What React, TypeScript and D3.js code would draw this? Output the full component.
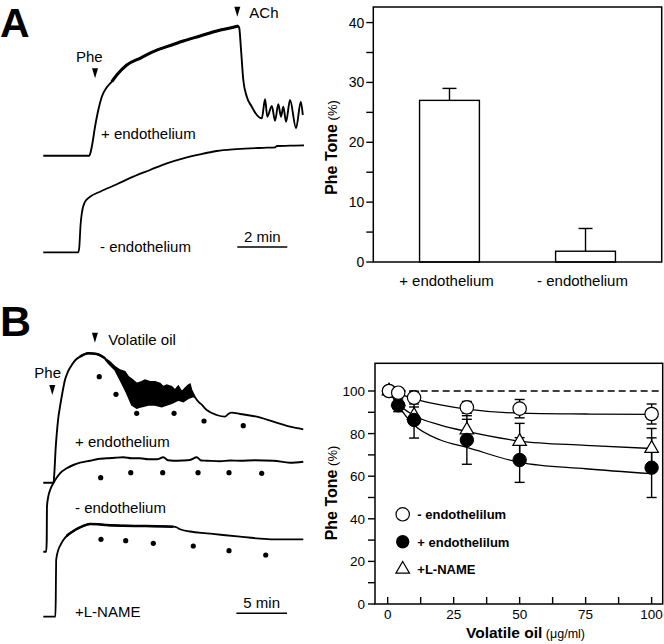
import React from 'react';
import * as d3 from 'd3';

const FONT = "'Liberation Sans', Arial, Helvetica, sans-serif";

// ---------- Panel A (right): bar chart ----------
const barCategories = ['+ endothelium', '- endothelium'];
const barValues = [27, 1.8];
const barErrors = [2, 3.8];
const barYTicks = [0, 10, 20, 30, 40];
const barYMinorTicks = [0, 5, 10, 15, 20, 25, 30, 35, 40];

// ---------- Panel B (right): concentration-response ----------
const doseX = [0.5, 4, 10, 30, 50, 100];
const toneMinusEndo = [100, 99.2, 96.9, 92.3, 91.7, 89.2];
const errMinusEndo = [0, 1.5, 3, 2.8, 4.3, 4.7];
const tonePlusEndo = [100, 93.3, 86.4, 77, 67.6, 64];
const errPlusEndo = [0, 3, 8.5, 11.4, 10.5, 14];
const toneLName = [100, 95, 88.5, 81.7, 76.3, 73];
const errLName = [0, 2, 4, 5, 8.5, 9.4];
const fitX = [0.5, 4, 10, 20, 30, 50, 75, 100];
const fitMinusEndo = [100, 98.8, 96.3, 93.5, 91.5, 89.6, 89.2, 89];
const fitPlusEndo = [100, 93, 84, 77, 73.5, 66.5, 63.5, 61.2];
const fitLName = [100, 94, 88.5, 84, 81, 76.5, 74.5, 73];
const doseXTicks = [0, 12.5, 25, 37.5, 50, 62.5, 75, 87.5, 100];
const doseXLabels = [0, 25, 50, 75, 100];
const toneYTicks = [0, 10, 20, 30, 40, 50, 60, 70, 80, 90, 100];
const toneYLabels = [0, 20, 40, 60, 80, 100];
const legendLabels = ['- endothelilum', '+ endothelilum', '+L-NAME'];

// ---------- Panel A (left): tension traces [time (min), tension (a.u.)] ----------
const traceAPlus: [number, number][] = [
  [0, 0], [1.84, 0], [1.94, 9], [2.07, 29], [2.2, 45.7], [2.34, 59], [2.54, 68.4], [2.74, 74],
  [2.94, 80.7], [3.34, 90.7], [3.87, 97.4], [4.4, 104], [4.94, 109], [5.6, 114.7], [6.27, 119.7],
  [6.94, 124.7], [7.6, 128.4], [7.8, 129.7], [7.84, 127.4], [7.91, 105.7], [8.0, 75.7], [8.14, 59],
  [8.34, 49], [8.54, 40.7], [8.74, 37.4], [8.87, 56.4], [8.96, 39], [9.14, 49.7], [9.27, 35],
  [9.4, 51.4], [9.51, 39], [9.6, 49], [9.71, 34], [9.87, 55.7], [10.11, 27.4], [10.3, 54], [10.38, 40.7],
];
const traceAMinus: [number, number][] = [
  [0, 0], [1.4, 0], [1.44, 5.3], [1.49, 27.3], [1.54, 39], [1.67, 50.6], [1.87, 55.6], [2.27, 60.6],
  [2.94, 68], [3.6, 75.6], [4.27, 82.3], [4.94, 89], [5.6, 94], [6.27, 98], [6.94, 101.3], [7.6, 103],
  [8.27, 104], [8.94, 104.6], [9.27, 105], [9.35, 106.3], [9.87, 106.6], [10.43, 107],
];
const traceAEvents = [
  { label: 'Phe', t: 2.07, v: 77.4 },
  { label: 'ACh', t: 7.76, v: 139 },
];
const scaleBarA = { start: 7.76, minutes: 2 };

// ---------- Panel B (left): tension traces ----------
const traceBPlusRise: [number, number][] = [
  [0, 0], [1.01, 0], [1.11, 12.7], [1.21, 32.7], [1.32, 47.7], [1.48, 64.7], [1.65, 76], [1.9, 90.7],
  [2.14, 102.7], [2.44, 111.2], [2.81, 117.7], [3.18, 122.7], [3.63, 126], [4.45, 129.4], [5.28, 128.7],
  [6.1, 124.4],
];
const traceBPlusNoiseUpper: [number, number][] = [
  [6.1, 124.4], [6.59, 121], [7.08, 116], [7.58, 112.7], [8.07, 111], [8.4, 106], [8.74, 103.7],
  [9.23, 99.4], [9.72, 101], [10.05, 102.7], [10.54, 101], [11.04, 101], [11.53, 99.4], [11.86, 96],
  [12.19, 97.7], [12.69, 96], [13.01, 92.7], [13.34, 96.7], [13.68, 91], [14.0, 94.4], [14.33, 97.7],
  [14.5, 98.7], [14.66, 92.7], [14.99, 86],
];
const traceBPlusNoiseLower: [number, number][] = [
  [6.1, 123.4], [6.42, 119.4], [7.08, 112.7], [7.75, 99.4], [8.24, 89.4], [8.74, 77.7], [9.23, 74.4],
  [9.72, 76], [10.38, 77.7], [11.04, 77.7], [11.7, 76], [12.19, 77.7], [12.69, 79.4], [13.34, 82.7],
  [13.83, 81], [14.33, 84.4], [14.82, 86], [14.99, 85.2],
];
const traceBPlusDecay: [number, number][] = [
  [14.99, 85.5], [15.32, 81], [15.6, 78.5], [16.15, 72.7], [17.13, 67.7], [17.95, 66], [18.28, 68.7],
  [18.62, 70], [19.44, 68.7], [21.09, 66], [22.73, 61], [24.38, 56], [25.69, 53.4],
];
const traceBMinus: [number, number][] = [
  [0, 0], [0.29, 0], [0.34, 11.7], [0.36, 45], [0.49, 55], [0.71, 62.7], [0.99, 68.4], [1.3, 73.7],
  [1.65, 78.4], [2.31, 83.4], [2.96, 86.7], [3.63, 89], [4.61, 91], [5.4, 92.7], [6.26, 93.4],
  [7.08, 94], [7.91, 94.4], [8.74, 93.4], [9.56, 93.4], [10.38, 92.4], [11.21, 92.4], [11.86, 94.4],
  [12.32, 91.4], [12.85, 91], [13.71, 91.2], [14.5, 91.7], [15.16, 94.4], [15.6, 91.2], [16.15, 91],
  [17.46, 90.5], [18.45, 91.2], [19.44, 91], [20.92, 91.4], [22.73, 91], [24.38, 89], [25.69, 90],
];
const traceBLName: [number, number][] = [
  [0, 0], [1.19, 0], [1.23, 16.7], [1.27, 56.7], [1.48, 66.7], [1.7, 71.7], [1.98, 76.7], [2.31, 80.7],
  [2.64, 83.4], [3.13, 86.7], [3.63, 89.4], [4.12, 91.4], [4.61, 92.7], [5.4, 92.5], [6.26, 91.7],
  [7.91, 91], [9.56, 90.7], [11.21, 90.4], [12.85, 90], [13.21, 89.2], [13.51, 87.4], [14.5, 85.2],
  [16.15, 83.4], [17.75, 81.7], [19.44, 80], [21.09, 78.4], [22.73, 77.4], [24.38, 77.4], [25.69, 77.4],
];
const dotsBPlus: [number, number][] = [[5.53, 106], [7.18, 88.4], [9.23, 69.4], [12.92, 69.4], [15.88, 61.7], [19.76, 57]];
const dotsBMinus: [number, number][] = [[5.67, 74], [8.64, 79], [11.8, 79], [15.29, 79], [18.35, 79], [21.58, 78.4]];
const dotsBLName: [number, number][] = [[5.7, 77.4], [8.14, 76], [10.87, 73.4], [14.82, 70.7], [18.35, 66], [21.98, 61.7]];
const traceBEvents = [
  { label: 'Phe', t: 0.89, v: 87.7 },
  { label: 'Volatile oil', t: 5.1, v: 140 },
];
const scaleBarB = { start: 19.08, minutes: 5 };

// ---------------------------------------------------------------
const tA = d3.scaleLinear().domain([0, 10]).range([43.3, 293.3]);
const tB = d3.scaleLinear().domain([0, 10]).range([43.3, 144.5]);
const vScale = (base: number) => d3.scaleLinear().domain([0, 100]).range([base, base - 100]);
const vAPlus = vScale(155.7);
const vAMinus = vScale(252.3);
const vBPlus = vScale(482.7);
const vBMinus = vScale(551.7);
const vBLName = vScale(616.7);

function traceLine(tx: d3.ScaleLinear<number, number>, vy: d3.ScaleLinear<number, number>) {
  return d3.line<[number, number]>().x((d) => tx(d[0])).y((d) => vy(d[1])).curve(d3.curveMonotoneX);
}

function arrowPath(x: number, yTip: number) {
  const p = d3.path();
  p.moveTo(x - 3, yTip - 10);
  p.lineTo(x + 3, yTip - 10);
  p.lineTo(x, yTip);
  p.closePath();
  return p.toString();
}

function TracesA() {
  const lp = traceLine(tA, vAPlus);
  const lm = traceLine(tA, vAMinus);
  const thick = traceAPlus.filter((d) => d[0] >= 2.6 && d[0] <= 7.82);
  return (
    <g>
      <path d={lp(traceAPlus) || ''} fill="none" stroke="#000" strokeWidth={1.9} strokeLinejoin="round" />
      <path d={lp(thick) || ''} fill="none" stroke="#000" strokeWidth={3} strokeLinejoin="round" />
      <path d={lm(traceAMinus) || ''} fill="none" stroke="#000" strokeWidth={1.8} strokeLinejoin="round" />
      {traceAEvents.map((e) => (
        <path key={e.label} d={arrowPath(tA(e.t), vAPlus(e.v))} fill="#000" />
      ))}
      <text x={76} y={61.7} fontSize={15}>Phe</text>
      <text x={249.3} y={18.3} fontSize={15}>ACh</text>
      <text x={101} y={139.3} fontSize={15}>+ endothelium</text>
      <text x={100} y={252.3} fontSize={15}>- endothelium</text>
      <line x1={tA(scaleBarA.start)} x2={tA(scaleBarA.start + scaleBarA.minutes)} y1={247} y2={247} stroke="#000" strokeWidth={1.4} />
      <text x={(tA(scaleBarA.start) + tA(scaleBarA.start + scaleBarA.minutes)) / 2} y={241.7} fontSize={15} textAnchor="middle">2 min</text>
    </g>
  );
}

function TracesB() {
  const lp = traceLine(tB, vBPlus);
  const lm = traceLine(tB, vBMinus);
  const ll = traceLine(tB, vBLName);
  const band = d3
    .line<[number, number]>()
    .x((d) => tB(d[0]))
    .y((d) => vBPlus(d[1]))
    .curve(d3.curveLinearClosed)([...traceBPlusNoiseUpper, ...traceBPlusNoiseLower.slice().reverse()]);
  const peakThick = traceBPlusRise.filter((d) => d[0] >= 3.6);
  const lnameThick = traceBLName.filter((d) => d[0] >= 2.3 && d[0] <= 13.2);
  return (
    <g>
      <path d={lp(traceBPlusRise) || ''} fill="none" stroke="#000" strokeWidth={1.9} />
      <path d={lp(peakThick) || ''} fill="none" stroke="#000" strokeWidth={2.6} />
      <path d={band || ''} fill="#000" stroke="#000" strokeWidth={1.4} strokeLinejoin="miter" />
      <path d={lp(traceBPlusDecay) || ''} fill="none" stroke="#000" strokeWidth={1.8} />
      <path d={lm(traceBMinus) || ''} fill="none" stroke="#000" strokeWidth={1.9} />
      <path d={ll(traceBLName) || ''} fill="none" stroke="#000" strokeWidth={1.8} />
      <path d={ll(lnameThick) || ''} fill="none" stroke="#000" strokeWidth={2.5} />
      {dotsBPlus.map((d, i) => <circle key={'p' + i} cx={tB(d[0])} cy={vBPlus(d[1])} r={2.6} fill="#000" />)}
      {dotsBMinus.map((d, i) => <circle key={'m' + i} cx={tB(d[0])} cy={vBMinus(d[1])} r={2.6} fill="#000" />)}
      {dotsBLName.map((d, i) => <circle key={'l' + i} cx={tB(d[0])} cy={vBLName(d[1])} r={2.6} fill="#000" />)}
      {traceBEvents.map((e) => (
        <path key={e.label} d={arrowPath(tB(e.t), vBPlus(e.v))} fill="#000" />
      ))}
      <text x={34.3} y={378.3} fontSize={15}>Phe</text>
      <text x={108.3} y={345} fontSize={15}>Volatile oil</text>
      <text x={75} y={447} fontSize={15}>+ endothelium</text>
      <text x={75} y={513.3} fontSize={15}>- endothelium</text>
      <text x={75} y={617} fontSize={15}>+L-NAME</text>
      <line x1={tB(scaleBarB.start)} x2={tB(scaleBarB.start + scaleBarB.minutes)} y1={613.3} y2={613.3} stroke="#000" strokeWidth={1.4} />
      <text x={(tB(scaleBarB.start) + tB(scaleBarB.start + scaleBarB.minutes)) / 2} y={608.3} fontSize={15} textAnchor="middle">5 min</text>
    </g>
  );
}

function BarChart() {
  const left = 373.3, right = 661.7, top = 7, bottom = 262;
  const x = d3.scaleBand<string>().domain(barCategories).range([left, right]).paddingInner(0.56).paddingOuter(0.34);
  const y = d3.scaleLinear().domain([0, 42.6]).range([bottom, top]);
  const capW = 14;
  return (
    <g>
      {barCategories.map((c, i) => {
        const cx = (x(c) as number) + x.bandwidth() / 2;
        return (
          <g key={c}>
            <line x1={cx} x2={cx} y1={y(barValues[i])} y2={y(barValues[i] + barErrors[i])} stroke="#000" strokeWidth={1.4} />
            <line x1={cx - capW / 2} x2={cx + capW / 2} y1={y(barValues[i] + barErrors[i])} y2={y(barValues[i] + barErrors[i])} stroke="#000" strokeWidth={1.4} />
            <rect x={x(c)} y={y(barValues[i])} width={x.bandwidth()} height={y(0) - y(barValues[i])} fill="#fff" stroke="#000" strokeWidth={1.4} />
            <text x={cx - 3} y={286} fontSize={15} textAnchor="middle">{c}</text>
          </g>
        );
      })}
      <rect x={left} y={top} width={right - left} height={bottom - top} fill="none" stroke="#000" strokeWidth={1.5} />
      {barYMinorTicks.map((t) => (
        <line key={t} x1={left - 7} x2={left} y1={y(t)} y2={y(t)} stroke="#000" strokeWidth={1.4} />
      ))}
      {barYTicks.map((t) => (
        <text key={t} x={left - 9} y={y(t) + 5} fontSize={14} textAnchor="end">{t}</text>
      ))}
      <text transform={`translate(336.5,147.5) rotate(-90)`} textAnchor="middle">
        <tspan fontWeight="bold" fontSize={16}>Phe Tone</tspan>
        <tspan fontSize={13}> (%)</tspan>
      </text>
    </g>
  );
}

function DoseChart() {
  const left = 375, right = 662.7, top = 363.3, bottom = 604;
  const x = d3.scaleLinear().domain([-4.8, 104.2]).range([left, right]);
  const y = d3.scaleLinear().domain([0, 113]).range([bottom, top]);
  const fit = (vals: number[]) =>
    d3.line<number>().x((_, i) => x(fitX[i])).y((d) => y(d)).curve(d3.curveMonotoneX)(vals) || '';
  const capW = 10;
  const errBars = (vals: number[], errs: number[], key: string) =>
    vals.map((v, i) =>
      errs[i] > 0 ? (
        <g key={key + i} stroke="#000" strokeWidth={1.4}>
          <line x1={x(doseX[i])} x2={x(doseX[i])} y1={y(v - errs[i])} y2={y(v + errs[i])} />
          <line x1={x(doseX[i]) - capW / 2} x2={x(doseX[i]) + capW / 2} y1={y(v + errs[i])} y2={y(v + errs[i])} />
          <line x1={x(doseX[i]) - capW / 2} x2={x(doseX[i]) + capW / 2} y1={y(v - errs[i])} y2={y(v - errs[i])} />
        </g>
      ) : null
    );
  const tri = d3.symbol().type(d3.symbolTriangle).size(80)() || '';
  const r = 6.7;
  return (
    <g>
      <line x1={x(0)} x2={right} y1={y(100)} y2={y(100)} stroke="#000" strokeWidth={1.5} strokeDasharray="7,4" />
      <path d={fit(fitMinusEndo)} fill="none" stroke="#000" strokeWidth={1.3} />
      <path d={fit(fitPlusEndo)} fill="none" stroke="#000" strokeWidth={1.3} />
      <path d={fit(fitLName)} fill="none" stroke="#000" strokeWidth={1.3} />
      {errBars(toneLName, errLName, 'l')}
      {errBars(tonePlusEndo, errPlusEndo, 'p')}
      {errBars(toneMinusEndo, errMinusEndo, 'm')}
      {toneLName.map((v, i) => (
        <path key={'tl' + i} d={tri} transform={`translate(${x(doseX[i])},${y(v)})`} fill="#fff" stroke="#000" strokeWidth={1.2} />
      ))}
      {tonePlusEndo.map((v, i) => (
        <circle key={'cp' + i} cx={x(doseX[i])} cy={y(v)} r={r} fill="#000" stroke="#000" strokeWidth={1} />
      ))}
      {toneMinusEndo.map((v, i) => (
        <circle key={'cm' + i} cx={x(doseX[i])} cy={y(v)} r={r} fill="#fff" stroke="#000" strokeWidth={1.2} />
      ))}
      <rect x={left} y={top} width={right - left} height={bottom - top} fill="none" stroke="#000" strokeWidth={1.5} />
      {doseXTicks.map((t) => (
        <line key={t} x1={x(t)} x2={x(t)} y1={bottom} y2={bottom - 7} stroke="#000" strokeWidth={1.4} />
      ))}
      {doseXLabels.map((t) => (
        <text key={t} x={x(t)} y={619} fontSize={13.5} textAnchor="middle">{t}</text>
      ))}
      {toneYTicks.map((t) => (
        <line key={t} x1={left - 7} x2={left} y1={y(t)} y2={y(t)} stroke="#000" strokeWidth={1.4} />
      ))}
      {toneYLabels.map((t) => (
        <text key={t} x={left - 10} y={y(t) + 5} fontSize={13.5} textAnchor="end">{t}</text>
      ))}
      {legendLabels.map((lab, i) => {
        const cy = 514.3 + i * 27.5;
        return (
          <g key={lab}>
            {i === 0 && <circle cx={402.7} cy={cy} r={r} fill="#fff" stroke="#000" strokeWidth={1.2} />}
            {i === 1 && <circle cx={402.7} cy={cy} r={r} fill="#000" />}
            {i === 2 && <path d={tri} transform={`translate(402.7,${cy})`} fill="#fff" stroke="#000" strokeWidth={1.2} />}
            <text x={417.3} y={cy + 4.7} fontSize={13} fontWeight="bold">{lab}</text>
          </g>
        );
      })}
      <text transform={`translate(336.5,493) rotate(-90)`} textAnchor="middle">
        <tspan fontWeight="bold" fontSize={16}>Phe Tone</tspan>
        <tspan fontSize={13}> (%)</tspan>
      </text>
      <text x={466} y={638.3}>
        <tspan fontWeight="bold" fontSize={15.5}>Volatile oil</tspan>
        <tspan fontSize={12.5}> (μg/ml)</tspan>
      </text>
    </g>
  );
}

export default function App() {
  return (
    <svg
      width={664}
      height={644}
      viewBox="0 0 664 644"
      style={{ position: 'absolute', left: 0, top: 0, background: '#fff' }}
      fontFamily={FONT}
    >
      <rect x={0} y={0} width={664} height={644} fill="#fff" />
      <text x={0} y={37.2} fontSize={41} fontWeight="bold">A</text>
      <text x={0} y={336} fontSize={43} fontWeight="bold">B</text>
      <TracesA />
      <BarChart />
      <TracesB />
      <DoseChart />
    </svg>
  );
}
